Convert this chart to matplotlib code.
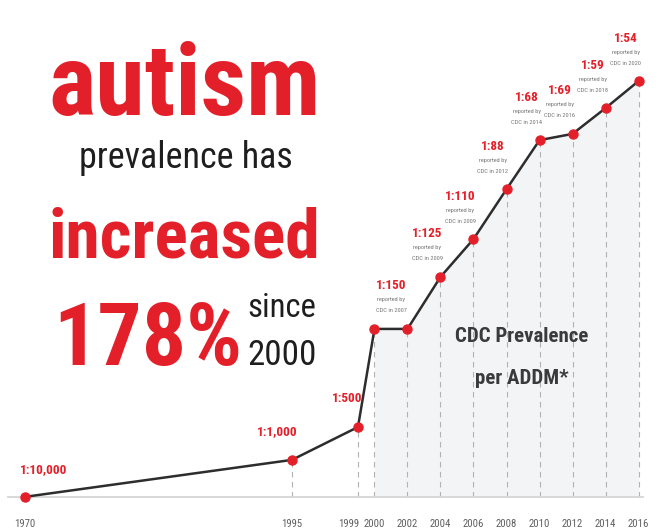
import numpy as np
import matplotlib
matplotlib.use('Agg')
import matplotlib.pyplot as plt
from matplotlib import transforms, font_manager

# CDC / ADDM points as drawn on the infographic (level = height of the point, top point = 100)
survey_years = [1970, 1995, 1999, 2000, 2002, 2004, 2006, 2008, 2010, 2012, 2014, 2016]
chart_level = [0, 8.9, 16.8, 40.4, 40.4, 52.9, 62.0, 74.0, 85.8, 87.3, 93.5, 100]
ratio_labels = ['1:10,000', '1:1,000', '1:500', '', '1:150', '1:125', '1:110',
                '1:88', '1:68', '1:69', '1:59', '1:54']
reported_in = [None, None, None, None, 2007, 2009, 2009, 2012, 2014, 2016, 2018, 2020]
axis_years = [1970, 1995, 1999, 2000, 2002, 2004, 2006, 2008, 2010, 2012, 2014, 2016]

# offsets (pixels) of the ratio labels from their point
label_offsets = [(19, 27), (-15, 28), (-11, 29), (0, 0), (-16, 43), (-13, 43), (-13, 43),
                 (-14, 43), (-13, 43), (-13, 43), (-13, 43), (-13, 43)]

RED = '#e3202a'

# procura uma fonte estreita entre as instaladas
fonts = font_manager.fontManager.ttflist
names = {f.name for f in fonts}
STRETCH = 'normal'
FAMILY = None
for cand in ['Roboto Condensed', 'Liberation Sans Narrow', 'Open Sans Condensed',
             'Noto Sans Condensed', 'DejaVu Sans Condensed']:
    if cand in names:
        FAMILY = cand
        break
if FAMILY is None:
    for f in fonts:
        if str(f.stretch) in ('condensed', 'semi-condensed', 'extra-condensed') or \
                (isinstance(f.stretch, int) and f.stretch < 500):
            FAMILY = f.name
            STRETCH = 'condensed'
            break
if FAMILY is None:
    FAMILY = 'Roboto' if 'Roboto' in names else 'DejaVu Sans'
NARROW = [FAMILY, 'DejaVu Sans']


# the years before 1995 are squeezed on the axis
def fwd(x):
    x = np.asarray(x, dtype=float)
    return np.where(x < 1995, 1995 + (x - 1995) * 0.648, x)


def inv(t):
    t = np.asarray(t, dtype=float)
    return np.where(t < 1995, 1995 + (t - 1995) / 0.648, t)


fig = plt.figure(figsize=(6.59, 5.31), dpi=100)
renderer = fig.canvas.get_renderer()


def size_for(s, width, **kw):
    # tamanho de fonte que deixa o texto com a largura pedida (em pixels)
    t = fig.text(0, 0, s, fontsize=10, family=NARROW, fontstretch=STRETCH, **kw)
    w = t.get_window_extent(renderer).width
    t.remove()
    return 10 * width / w


ax = fig.add_axes([0, 0, 1, 1])
ax.set_xscale('function', functions=(fwd, inv))
ax.set_xlim(1967.7, 2017.24)
ax.set_ylim(-8.2, 119.5)
ax.axis('off')

# área sombreada debaixo da curva (2000-2016)
ax.fill_between(survey_years[3:], 0, chart_level[3:], color='#f3f4f6', lw=0, zorder=1)
ax.vlines(survey_years[1:], 0, chart_level[1:], colors='#b3b3b3',
          linestyles=(0, (5, 4)), lw=0.8, zorder=2)
ax.axhline(0, xmin=0.012, xmax=0.975, color='#d6d6d6', lw=1.3, zorder=2)
ax.plot(survey_years, chart_level, color='#2d2d2d', lw=1.8, zorder=3)
ax.plot(survey_years, chart_level, 'o', ms=6.5, color=RED, lw=0, zorder=4)

fs_ratio = size_for('1:54', 24, fontweight='heavy')
fs_small = size_for('CDC in 2020', 31)
fs_year = size_for('2000', 21)

for i, txt in enumerate(ratio_labels):
    if not txt:
        continue
    dx, dy = label_offsets[i]
    pt = (survey_years[i], chart_level[i])
    ax.annotate(txt, pt, xytext=(dx, dy), textcoords='offset pixels', ha='center', va='center',
                fontsize=fs_ratio, fontweight='heavy', color=RED, family=NARROW,
                fontstretch=STRETCH, zorder=5)
    if reported_in[i] is not None:
        ax.annotate('reported by', pt, xytext=(dx, dy - 14), textcoords='offset pixels',
                    ha='center', va='center', fontsize=fs_small, color='#777777',
                    family=NARROW, fontstretch=STRETCH)
        ax.annotate('CDC in %d' % reported_in[i], pt, xytext=(dx, dy - 25),
                    textcoords='offset pixels', ha='center', va='center', fontsize=fs_small,
                    color='#777777', family=NARROW, fontstretch=STRETCH)

for yr in axis_years:
    dx = -9 if yr == 1999 else 0
    ax.annotate(str(yr), (yr, 0), xytext=(dx, -27), textcoords='offset pixels',
                ha='center', va='center', fontsize=fs_year, color='#606060',
                family=NARROW, fontstretch=STRETCH)

# textos grandes à esquerda, coordenadas em pixels a partir do canto superior esquerdo
px = transforms.Affine2D().scale(1 / 659, -1 / 531).translate(0, 1) + fig.transFigure

big_text = [
    # texto, x esquerdo, linha de base, largura, peso, cor
    ('autism', 48, 115, 272, 'heavy', RED),
    ('prevalence has', 79, 168, 212, 'normal', '#1e1e1e'),
    ('increased', 49, 257, 272, 'heavy', RED),
    ('178%', 53, 365, 190, 'heavy', RED),
    ('since', 247, 317, 68, 'normal', '#1e1e1e'),
    ('2000', 247, 365, 68, 'normal', '#1e1e1e'),
]
for s, x0, base, w, weight, col in big_text:
    fs = size_for(s, w, fontweight=weight)
    fig.text(x0, base, s, transform=px, ha='left', va='baseline', fontsize=fs,
             fontweight=weight, color=col, family=NARROW, fontstretch=STRETCH)

fs_cdc = size_for('CDC Prevalence', 133, fontweight='bold')
fig.text(522, 337, 'CDC Prevalence', transform=px, ha='center', va='center', fontsize=fs_cdc,
         fontweight='bold', color='#3a3a3a', family=NARROW, fontstretch=STRETCH)
fig.text(522, 378, 'per ADDM*', transform=px, ha='center', va='center', fontsize=fs_cdc,
         fontweight='bold', color='#3a3a3a', family=NARROW, fontstretch=STRETCH)

fig.savefig('out.png', dpi=100)
